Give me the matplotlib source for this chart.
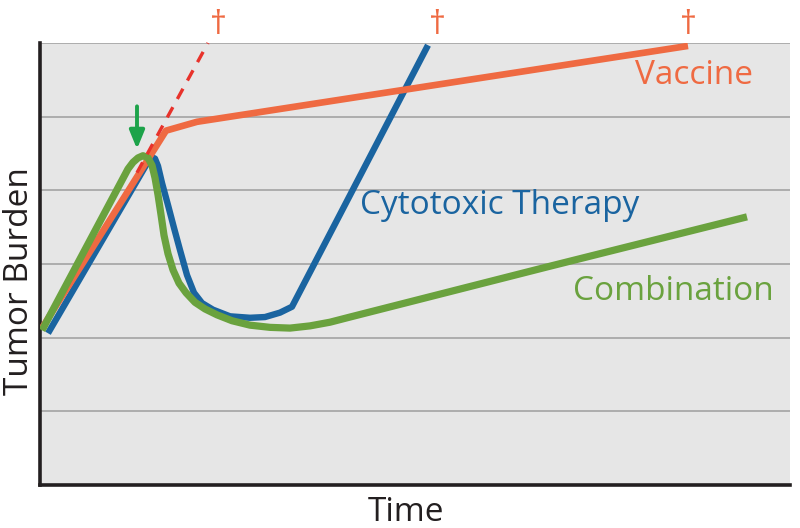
import matplotlib
matplotlib.use("Agg")
import matplotlib.pyplot as plt

# ---- data (x: time units, y: tumor burden units) ----
vaccine_x = [2, 126, 157, 648]
vaccine_y = [2.13, 4.81, 4.93, 5.96]

vaccine_untreated_x = [97, 168]
vaccine_untreated_y = [4.24, 6.00]

cyto_x = [8, 106, 109, 112, 115, 118, 122, 128, 134, 140, 147, 154, 162, 173, 190, 210, 225, 240, 252, 388]
cyto_y = [2.06, 4.34, 4.41, 4.45, 4.43, 4.33, 4.10, 3.80, 3.49, 3.19, 2.85, 2.61, 2.47, 2.38, 2.29, 2.27,
          2.28, 2.34, 2.42, 5.97]

combo_x = [2, 88, 93, 98, 103, 108, 112, 115, 118, 121, 124, 128, 133, 139, 146, 155, 165, 177, 192, 210,
           230, 250, 270, 290, 310, 507, 707]
combo_y = [2.10, 4.29, 4.38, 4.44, 4.47, 4.44, 4.34, 4.17, 3.94, 3.67, 3.39, 3.14, 2.92, 2.74, 2.61, 2.48,
           2.39, 2.31, 2.23, 2.17, 2.14, 2.13, 2.16, 2.21, 2.28, 2.96, 3.64]

death_x = [178, 397, 648]
labels = ["Vaccine", "Cytotoxic Therapy", "Combination"]
x_label = "Time"
y_label = "Tumor Burden"
grid_levels = [1, 2, 3, 4, 5, 6]

c_orange = "#ef6a42"
c_red = "#e8322b"
c_blue = "#1a64a0"
c_green = "#6aa23e"
c_arrow = "#1da34a"

FONT = "Open Sans"

fig = plt.figure(figsize=(8, 5.28), dpi=100)
ax = fig.add_axes([0.05, 0.0814, 0.9375, 0.8372])
ax.set_facecolor("#e6e6e6")
ax.set_xlim(0, 750)
ax.set_ylim(0, 6)

for g in grid_levels:
    ax.axhline(g, color="#a9a9a9", lw=1.3, zorder=1)

ax.plot(cyto_x, cyto_y, color=c_blue, lw=4.6, solid_joinstyle="round", solid_capstyle="butt", zorder=2)
ax.plot(vaccine_x, vaccine_y, color=c_orange, lw=4.8, solid_joinstyle="round", solid_capstyle="butt", zorder=3)
ax.plot(combo_x, combo_y, color=c_green, lw=5.2, solid_joinstyle="round", solid_capstyle="butt", zorder=4)
ax.plot(vaccine_untreated_x, vaccine_untreated_y, color=c_red, lw=2.4, dashes=(3.5, 2.8), zorder=5, clip_on=False)

ax.annotate("", xy=(97, 4.56), xytext=(97, 5.14),
            arrowprops=dict(arrowstyle="-|>,head_width=0.45,head_length=1.1", color=c_arrow, lw=2.8,
                            shrinkA=0, shrinkB=0),
            zorder=6)

for dx in death_x:
    ax.text(dx, 6.24, "\u2020", color=c_orange, fontsize=24, family=FONT,
            ha="center", va="center", clip_on=False)

ax.text(595, 5.44, labels[0], color=c_orange, fontsize=24, family=FONT, ha="left", va="baseline")
ax.text(320, 3.68, labels[1], color=c_blue, fontsize=24, family=FONT, ha="left", va="baseline")
ax.text(533, 2.51, labels[2], color=c_green, fontsize=24, family=FONT, ha="left", va="baseline")

for s in ["top", "right"]:
    ax.spines[s].set_visible(False)
for s in ["left", "bottom"]:
    ax.spines[s].set_color("#231f20")
    ax.spines[s].set_linewidth(2.6)
ax.set_xticks([])
ax.set_yticks([])

fig.text(406 / 800, (528 - 521) / 528, x_label, fontsize=24, family=FONT, ha="center", va="baseline", color="#231f20")
fig.text(20 / 800, (528 - 281) / 528, y_label, fontsize=24, family=FONT, ha="center", va="center",
         rotation=90, color="#231f20")

fig.savefig("out.png", dpi=100)
